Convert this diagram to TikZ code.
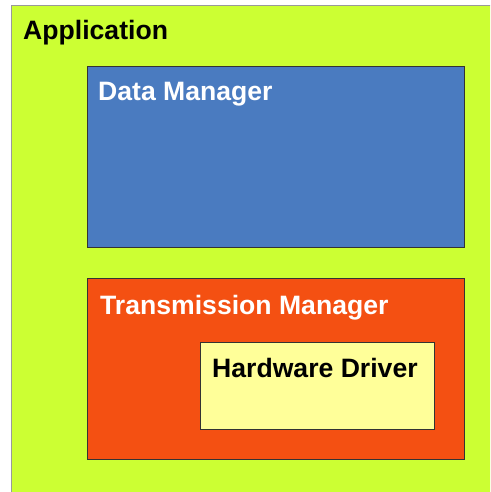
\documentclass[tikz,border=0pt]{standalone}
\usepackage{fontspec}
\setmainfont{Liberation Sans}
\definecolor{appgreen}{HTML}{CCFF33}
\definecolor{dmblue}{HTML}{4A7BC0}
\definecolor{tmorange}{HTML}{F45012}
\definecolor{hwyellow}{HTML}{FFFF99}
\definecolor{edgegray}{HTML}{333333}
\begin{document}
\begin{tikzpicture}[x=1pt,y=-1pt,
  box/.style={draw=edgegray,line width=1pt,anchor=north west,inner sep=0pt,outer sep=0pt},
  title/.style={anchor=base west,inner sep=0pt,font=\bfseries\fontsize{26.6}{29}\selectfont}]
\useasboundingbox (0,0) rectangle (490,492);
\clip (0,0) rectangle (490,492);
% outer application area
\node[box,draw=gray!80,fill=appgreen,minimum width=485pt,minimum height=492pt] (app) at (11,6) {};
\node[title] (apptxt) at (23,39.5) {Application};
% data manager
\node[box,fill=dmblue,minimum width=377pt,minimum height=180pt] (dm) at (87,67) {};
\node[title,text=white] (dmtxt) at (98,101) {Data Manager};
% transmission manager
\node[box,fill=tmorange,minimum width=377pt,minimum height=181pt] (tm) at (87,278) {};
\node[title,text=white] (tmtxt) at (100,314) {Transmission Manager};
% hardware driver inside the transmission manager
\node[box,fill=hwyellow,minimum width=234pt,minimum height=87pt] (hw) at (200,342) {};
\node[title] (hwtxt) at (212,377) {Hardware Driver};
\end{tikzpicture}
\end{document}
